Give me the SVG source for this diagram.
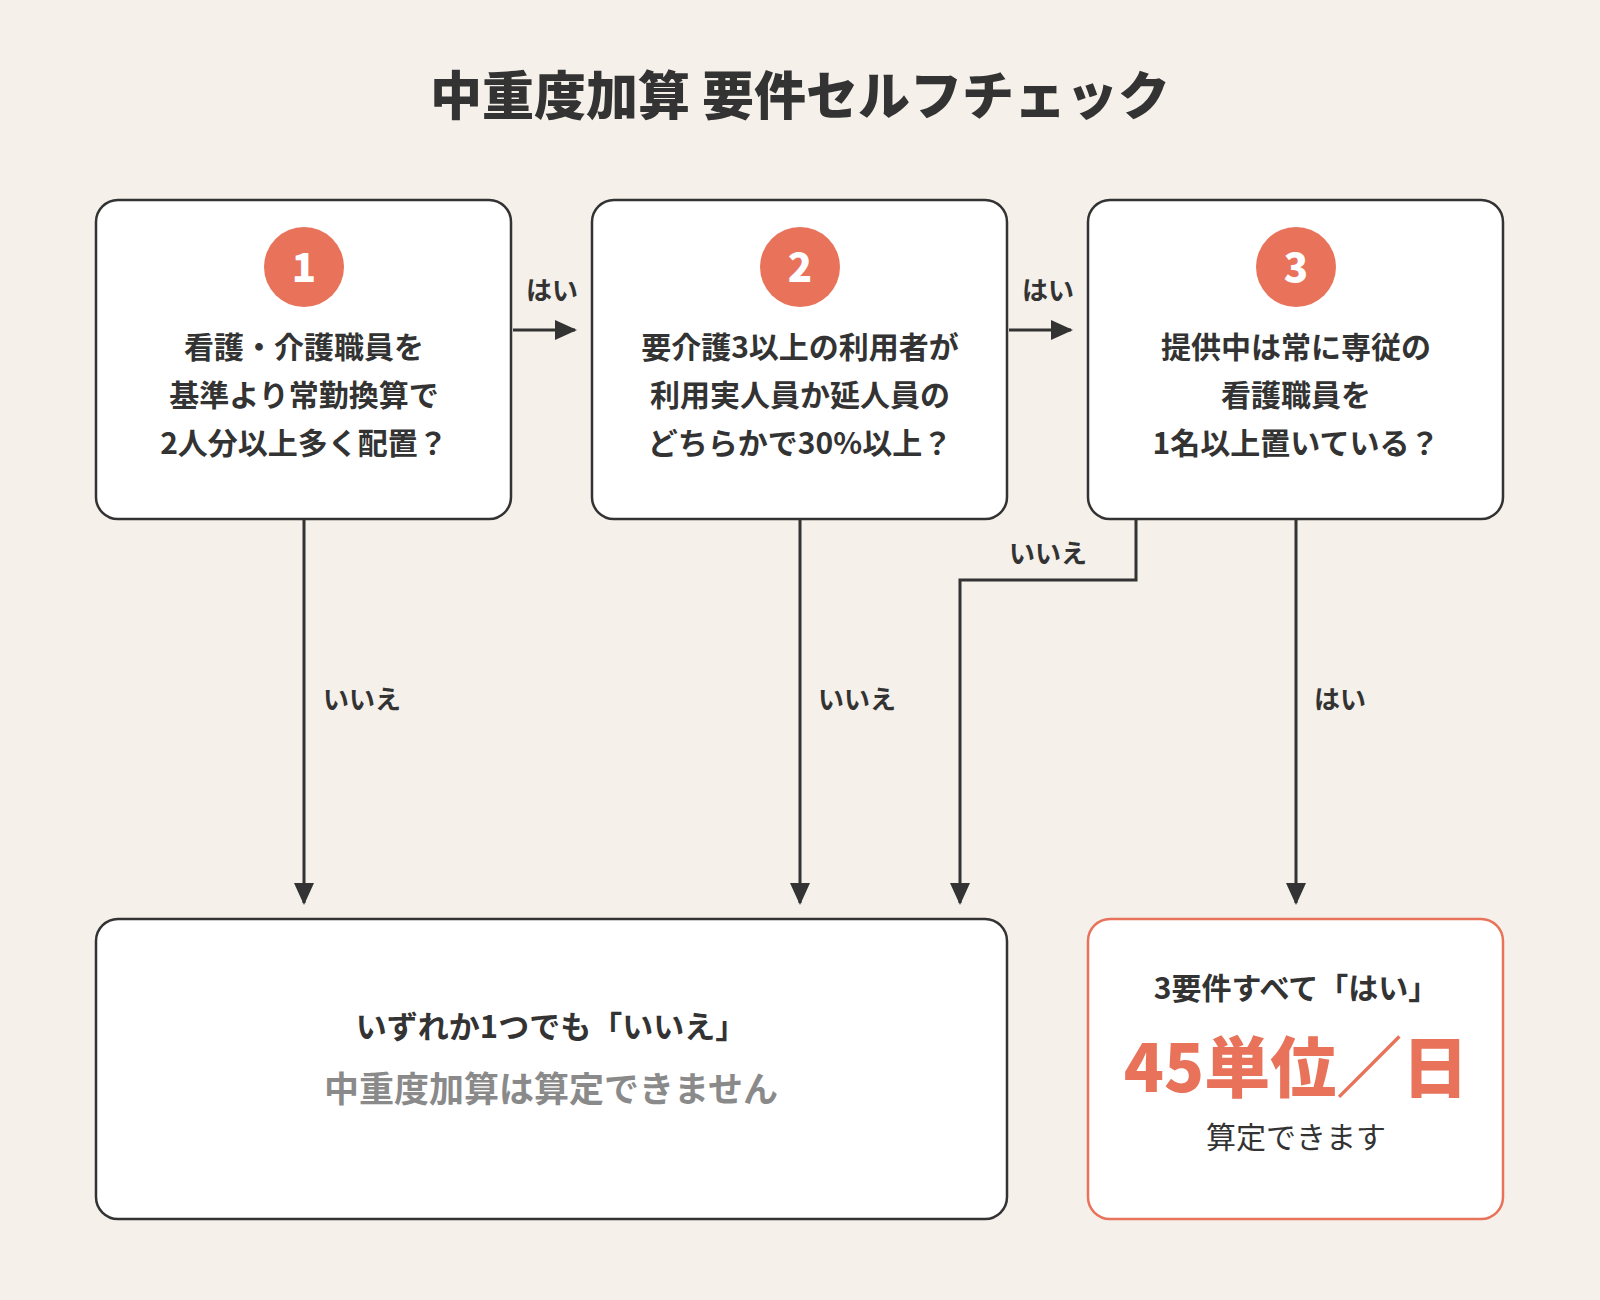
<svg xmlns="http://www.w3.org/2000/svg" width="1600" height="1300" viewBox="0 0 1600 1300">
<style>
text{font-family:"Noto Sans CJK JP","Noto Sans",sans-serif;fill:#333;text-anchor:middle}
.box{fill:#fff;stroke:#333;stroke-width:2.5}
.q{font-size:30px;font-weight:bold}
.lbl{font-size:26px;font-weight:bold}
.num{font-size:40px;font-weight:900;fill:#fff}
.ln{stroke:#333;stroke-width:3;fill:none}
</style>
<defs><marker id="ah" markerWidth="10" markerHeight="10" refX="8" refY="5" orient="auto" markerUnits="userSpaceOnUse" viewBox="0 0 10 10"><path d="M0,0 L10,5 L0,10z" fill="#333"/></marker>
<marker id="a" markerWidth="22" markerHeight="20" refX="20" refY="10" orient="auto" markerUnits="userSpaceOnUse"><path d="M0,0 L22,10 L0,20z" fill="#333"/></marker></defs>
<rect width="1600" height="1300" fill="#f5f0ea"/>
<text x="800" y="115" font-size="52" font-weight="900">中重度加算 要件セルフチェック</text>
<g id="n1"><rect class="box" x="96" y="200" width="415" height="319" rx="22"/><circle cx="304" cy="267" r="40" fill="#e8735a"/><text class="num" x="304" y="282">1</text>
<text class="q" x="304" y="358">看護・介護職員を</text><text class="q" x="304" y="406">基準より常勤換算で</text><text class="q" x="304" y="454">2人分以上多く配置？</text></g>
<g id="n2"><rect class="box" x="592" y="200" width="415" height="319" rx="22"/><circle cx="800" cy="267" r="40" fill="#e8735a"/><text class="num" x="800" y="282">2</text>
<text class="q" x="800" y="358">要介護3以上の利用者が</text><text class="q" x="800" y="406">利用実人員か延人員の</text><text class="q" x="800" y="454">どちらかで30%以上？</text></g>
<g id="n3"><rect class="box" x="1088" y="200" width="415" height="319" rx="22"/><circle cx="1296" cy="267" r="40" fill="#e8735a"/><text class="num" x="1296" y="282">3</text>
<text class="q" x="1296" y="358">提供中は常に専従の</text><text class="q" x="1296" y="406">看護職員を</text><text class="q" x="1296" y="454">1名以上置いている？</text></g>
<g id="no"><rect class="box" x="96" y="919" width="911" height="300" rx="22"/>
<text x="551" y="1038" font-size="31" font-weight="bold">いずれか1つでも「いいえ」</text>
<text x="551" y="1102" font-size="35" font-weight="bold" fill="#8a8a8a" style="fill:#8a8a8a">中重度加算は算定できません</text></g>
<g id="yes"><rect x="1088" y="919" width="415" height="300" rx="22" fill="#fff" stroke="#e8735a" stroke-width="2.5"/>
<text x="1296" y="999" font-size="30" font-weight="bold">3要件すべて「はい」</text>
<text x="1296" y="1092" font-size="66" font-weight="900" style="fill:#e8735a">45単位／日</text>
<text x="1296" y="1148" font-size="30">算定できます</text></g>
<g id="connectors">
<path class="ln" d="M513 330 H575" marker-end="url(#a)"/>
<path class="ln" d="M1009 330 H1071" marker-end="url(#a)"/>
<path class="ln" d="M304 519 V903" marker-end="url(#a)"/>
<path class="ln" d="M800 519 V903" marker-end="url(#a)"/>
<path class="ln" d="M1136 519 V580 H960 V903" marker-end="url(#a)"/>
<path class="ln" d="M1296 519 V903" marker-end="url(#a)"/>
<text class="lbl" x="552" y="300">はい</text>
<text class="lbl" x="1048" y="300">はい</text>
<text class="lbl" x="1048" y="563">いいえ</text>
<text class="lbl" x="362" y="709">いいえ</text>
<text class="lbl" x="857" y="709">いいえ</text>
<text class="lbl" x="1340" y="709">はい</text>
</g>
</svg>
